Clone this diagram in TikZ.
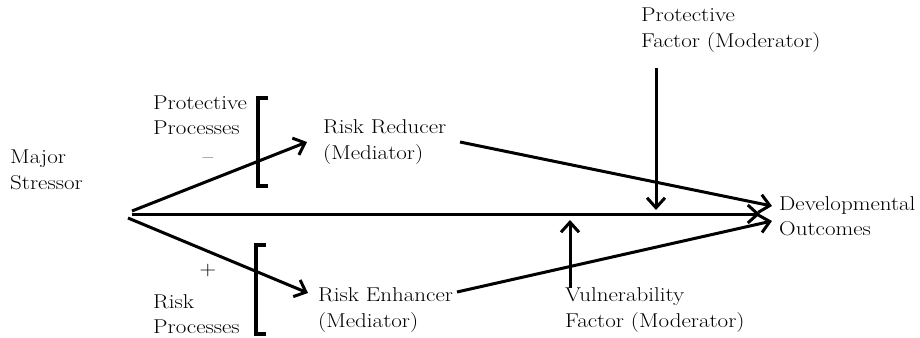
\documentclass[tikz,border=0pt]{standalone}
\usepackage{fontspec}
\setmainfont{Latin Modern Roman}[FakeStretch=1.15]
\usetikzlibrary{arrows.meta}
\begin{document}
\begin{tikzpicture}[x=1pt,y=-1pt,
  lbl/.style={inner sep=0pt,anchor=west,align=left,font=\fontsize{20}{25.5}\selectfont},
  sign/.style={inner sep=0pt,font=\fontsize{20}{25.5}\selectfont},
  link/.style={line width=3pt,-{Straight Barb[length=10pt,width=18pt]}},
  brack/.style={line width=3.5pt}]
\useasboundingbox (0,0) rectangle (920,337);

% text blocks
\node[lbl] (stressor) at (10,170) {Major\\Stressor};
\node[lbl] (protproc) at (153,115) {Protective\\Processes};
\node[sign] (minus) at (208,161) {--};
\node[sign] (plus) at (208,271) {+};
\node[lbl] (riskproc) at (153,314) {Risk\\Processes};
\node[lbl] (reducer) at (323,142) {Risk Reducer\\(Mediator)};
\node[lbl] (enhancer) at (318,310) {Risk Enhancer\\(Mediator)};
\node[lbl] (protfac) at (641,30) {Protective\\Factor (Moderator)};
\node[lbl] (vulnfac) at (565,310) {Vulnerability\\Factor (Moderator)};
\node[lbl] (outcomes) at (779,216) {Developmental\\Outcomes};

% connector end points
\coordinate (s1) at (132,211);
\coordinate (s2) at (132,214);
\coordinate (s3) at (128,218);
\coordinate (redtip) at (307,142);
\coordinate (enhtip) at (308,293);
\coordinate (redout) at (460,142);
\coordinate (enhout) at (457,292);
\coordinate (outtop) at (772,206);
\coordinate (outmid) at (760,214);
\coordinate (outbot) at (772,221);
\coordinate (pftop) at (656,68);
\coordinate (pftip) at (656,210);
\coordinate (vfbot) at (570,288);
\coordinate (vftip) at (570,220);

% paths from the stressor
\draw[link] (s1) -- (redtip);
\draw[link] (s3) -- (enhtip);
\draw[link] (s2) -- (outmid);

% mediators to outcomes
\draw[link] (redout) -- (outtop);
\draw[link] (enhout) -- (outbot);

% moderators
\draw[link] (pftop) -- (pftip);
\draw[link] (vfbot) -- (vftip);

% brackets
\draw[brack] (268,98) -- (258,98) -- (258,186) -- (268,186);
\draw[brack] (266,245) -- (256,245) -- (256,334) -- (266,334);
\end{tikzpicture}
\end{document}
